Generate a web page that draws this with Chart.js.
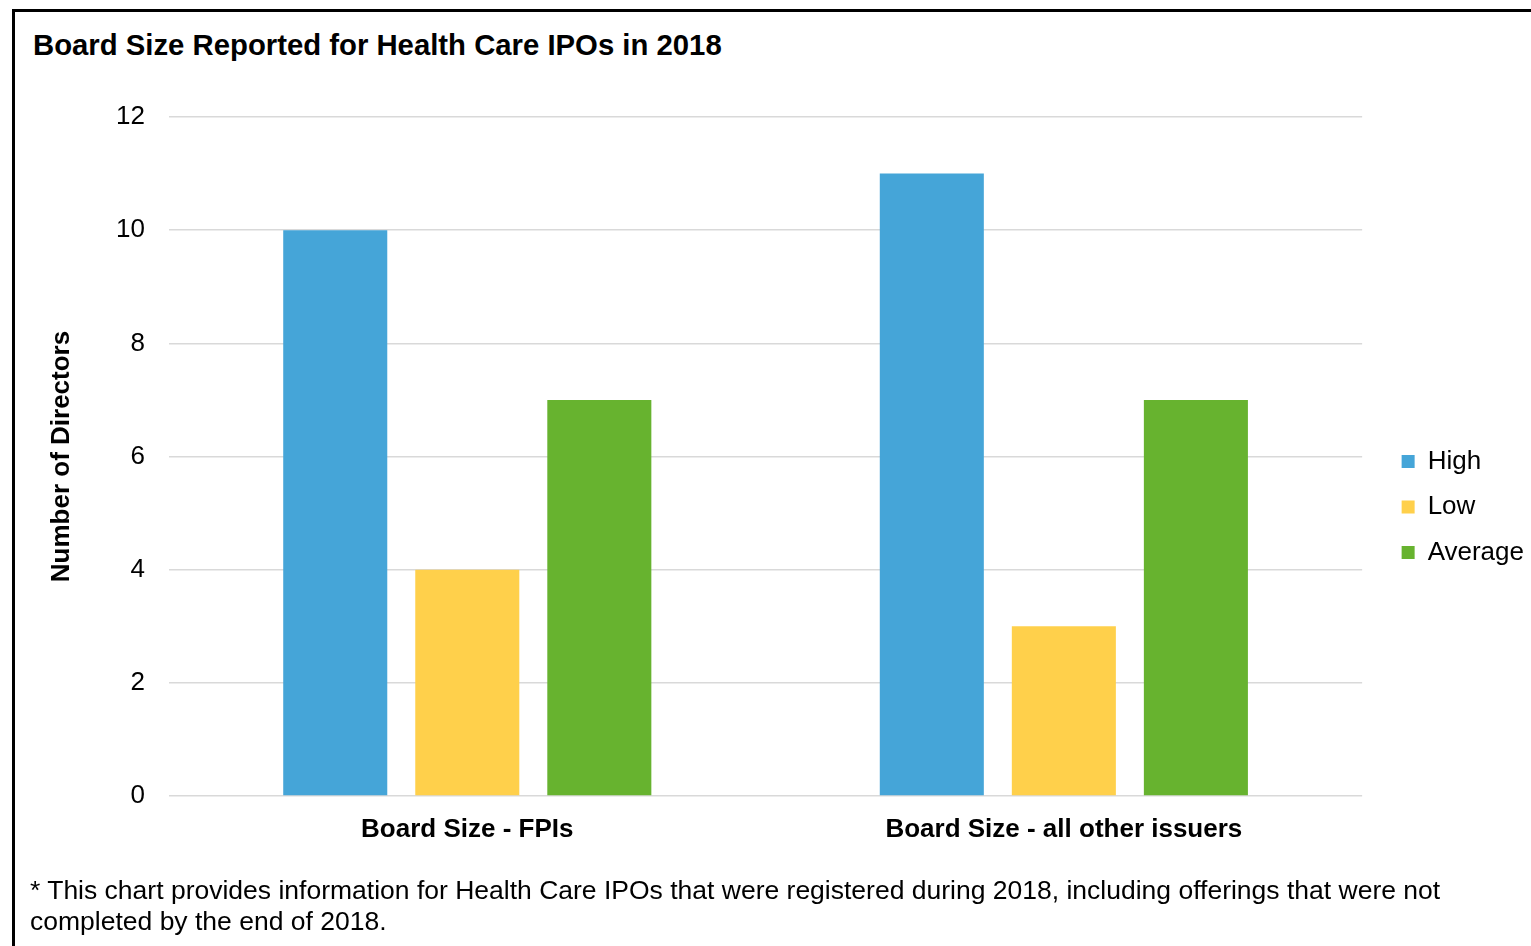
<!DOCTYPE html>
<html lang="en">
<head>
    <meta charset="UTF-8">
    <title>Board Size Reported for Health Care IPOs in 2018</title>
    <script src="https://cdn.jsdelivr.net/npm/chart.js@4"></script>
    <style>
        html, body {
            margin: 0;
            padding: 0;
            background: #ffffff;
            overflow: hidden;
        }

        .frame {
            position: absolute;
            left: 12px;
            top: 9px;
            width: 1600px;
            height: 1000px;
            border-left: 3px solid #000;
            border-top: 3px solid #000;
        }

        .title {
            position: absolute;
            left: 33px;
            top: 28px;
            font: bold 29.3px "Liberation Sans", Arial, sans-serif;
            color: #000;
            white-space: nowrap;
        }

        .note {
            position: absolute;
            left: 30px;
            top: 875px;
            font: 26.5px/31px "Liberation Sans", Arial, sans-serif;
            color: #000;
            white-space: nowrap;
        }

        #chartBox {
            position: absolute;
            left: 0;
            top: 0;
            width: 1543px;
            height: 946px;
        }
    </style>
</head>
<body>

<div class="frame"></div>
<div class="title">Board Size Reported for Health Care IPOs in 2018</div>

<div id="chartBox">
    <canvas id="boardChart"></canvas>
</div>

<div class="note">* This chart provides information for Health Care IPOs that were registered during 2018, including offerings that were not<br>completed by the end of 2018.</div>

<script>
    // data
    const categories = ['Board Size - FPIs', 'Board Size - all other issuers'];
    const highValues = [10, 11];
    const lowValues = [4, 3];
    const averageValues = [7, 7];
    const yTicks = [0, 2, 4, 6, 8, 10, 12];

    const FONT = '"Liberation Sans", Arial, sans-serif';
    const LEGEND_GAP = 20;

    // push the legend a bit away from the plot area
    const legendGap = {
        id: 'legendGap',
        beforeLayout(chart) {
            const legend = chart.legend;
            if (legend && !legend._gapPatched) {
                const fit = legend.fit;
                legend.fit = function () {
                    fit.call(this);
                    this.width += LEGEND_GAP;
                };
                legend._gapPatched = true;
            }
        },
        afterLayout(chart) {
            if (chart.legend) chart.legend.left += LEGEND_GAP;
        }
    };

    new Chart(document.getElementById('boardChart'), {
        type: 'bar',
        data: {
            labels: categories,
            datasets: [
                { label: 'High', data: highValues, backgroundColor: '#45a5d8' },
                { label: 'Low', data: lowValues, backgroundColor: '#ffd04b' },
                { label: 'Average', data: averageValues, backgroundColor: '#67b32f' }
            ]
        },
        options: {
            responsive: true,
            maintainAspectRatio: false,
            animation: false,
            devicePixelRatio: 1,
            categoryPercentage: 0.664,
            barPercentage: 0.788,
            layout: {
                padding: { left: 46, top: 117, right: 9, bottom: 49 }
            },
            plugins: {
                legend: {
                    position: 'right',
                    align: 'center',
                    labels: {
                        boxWidth: 13,
                        boxHeight: 13,
                        padding: 19.5,
                        color: '#000',
                        font: { family: FONT, size: 26 }
                    }
                },
                tooltip: { enabled: false }
            },
            scales: {
                x: {
                    grid: { display: false, drawTicks: false },
                    border: { display: false },
                    ticks: {
                        color: '#000',
                        padding: 18,
                        font: { family: FONT, size: 26, weight: 'bold' }
                    },
                    afterFit(scale) {
                        scale.height = 101;
                    }
                },
                y: {
                    min: 0,
                    max: 12,
                    afterBuildTicks(scale) {
                        scale.ticks = yTicks.map(v => ({ value: v }));
                    },
                    grid: { color: '#d9d9d9', lineWidth: 1.5, drawTicks: false },
                    border: { display: false },
                    ticks: {
                        color: '#000',
                        padding: 24,
                        font: { family: FONT, size: 26 }
                    },
                    title: {
                        display: true,
                        text: 'Number of Directors',
                        color: '#000',
                        padding: 0,
                        font: { family: FONT, size: 26, weight: 'bold' }
                    },
                    afterFit(scale) {
                        scale.width = 123;
                    }
                }
            }
        },
        plugins: [legendGap]
    });
</script>

</body>
</html>
